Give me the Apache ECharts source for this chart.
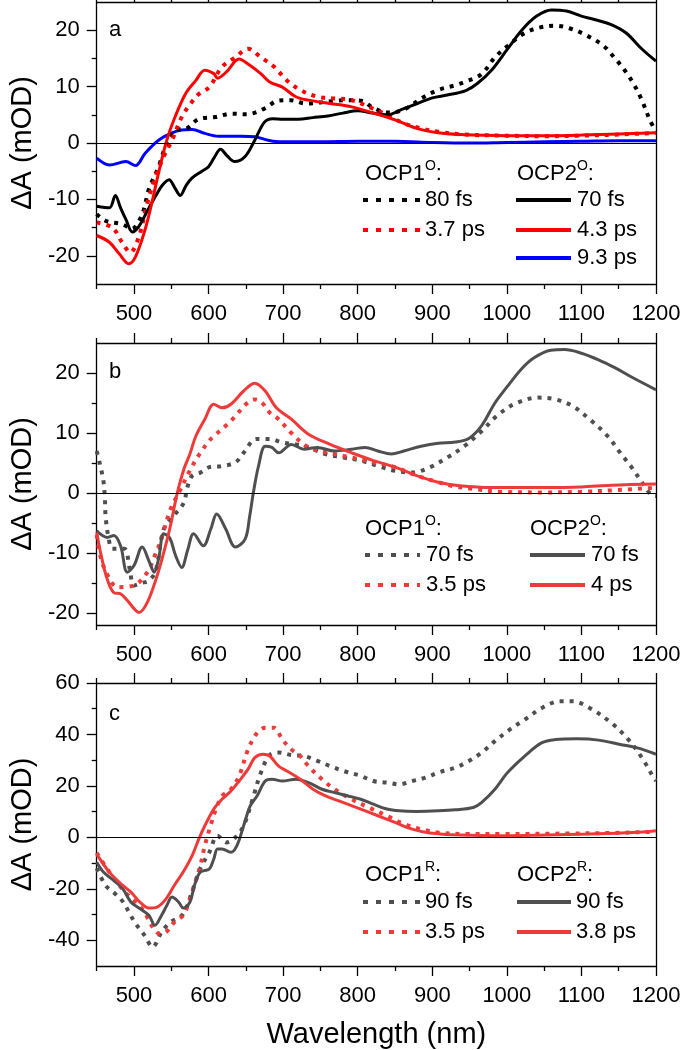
<!DOCTYPE html>
<html><head><meta charset="utf-8">
<script src="https://cdn.jsdelivr.net/npm/echarts@6/dist/echarts.min.js"></script>
<style>html,body{margin:0;padding:0;background:#fff}#c{width:684px;height:1050px}</style>
</head><body><div id="c"></div>
<script>
// ---------- tick values ----------
const X_MAJOR = [500, 600, 700, 800, 900, 1000, 1100, 1200];
const X_MINOR = [450, 550, 650, 750, 850, 950, 1050, 1150];
const Y_AB_MAJOR = [-20, -10, 0, 10, 20];
const Y_AB_MINOR = [-15, -5, 5, 15];
const Y_C_MAJOR = [-40, -20, 0, 20, 40, 60];
const Y_C_MINOR = [-30, -10, 10, 30, 50];

// ---------- panel a ----------
const A_OCP1_80fs = [[450,-12.6],[462,-13.8],[484,-14.4],[497,-15.2],[511,-12.6],[520,-8.2],[533,-4.2],[544,0],[555,2.3],[571,2.6],[586,4.2],[609,4.6],[631,5.2],[651,5.1],[675,6.1],[693,7.5],[710,7.6],[730,7],[750,7.2],[770,7.5],[790,7.6],[805,7.5],[820,6.3],[840,5.4],[855,5.6],[870,6.5],[885,7.9],[908,9.4],[930,10.2],[945,10.9],[966,12.2],[984,15.2],[1001,17.2],[1024,19.5],[1045,20.5],[1065,20.8],[1085,20.3],[1105,19.2],[1129,17.3],[1145,15],[1158,12.9],[1170,10.5],[1181,7.6],[1192,4],[1200,2]];
const A_OCP1_37ps = [[450,-14.1],[471,-15],[484,-17.6],[495,-19.4],[507,-16.4],[518,-10.6],[529,-5.9],[540,-2.4],[551,0.5],[564,4.6],[576,7],[587,8.7],[601,9.9],[618,13.5],[636,15.2],[653,16.7],[670,15.2],[688,13.5],[705,11.1],[723,9.4],[746,8.2],[769,7.9],[792,7.6],[815,6.4],[839,5],[862,3.5],[885,2.6],[908,2],[943,1.5],[1000,1.3],[1050,1.2],[1100,1.3],[1150,1.5],[1200,1.8]];
const A_OCP2_70fs = [[450,-11.2],[467,-11.5],[475,-9.3],[482,-11.5],[489,-13.5],[498,-15.8],[507,-14.7],[518,-12],[529,-9.4],[538,-7.5],[547,-6.5],[555,-8],[562,-9.3],[570,-7.5],[578,-6.2],[591,-5],[600,-4.2],[608,-2.5],[616,-1.1],[625,-2.3],[635,-3.3],[649,-2.4],[662,0.5],[675,3.7],[686,4.3],[700,4.2],[720,4.2],[740,4.5],[760,4.8],[780,5.3],[800,5.7],[820,5.3],[840,5],[860,6],[880,7],[900,8],[920,8.5],[945,9.3],[960,10.5],[980,13],[1000,16.5],[1020,20],[1040,22.5],[1060,23.6],[1080,23.4],[1100,22.5],[1120,21.8],[1140,21],[1160,19.5],[1180,16.8],[1200,14.5]];
const A_OCP2_43ps = [[450,-16.4],[467,-17.6],[480,-19.6],[493,-21.4],[502,-20.2],[515,-15.3],[524,-10.6],[533,-5.3],[544,0.5],[555,4.6],[569,8.7],[583,11.1],[595,12.9],[607,12.3],[612,11.5],[624,12.6],[641,14.9],[653,14],[670,12.3],[682,10.8],[699,9.9],[717,8.2],[734,7.6],[763,7],[792,6.4],[821,5.3],[850,4.1],[879,2.6],[908,1.8],[937,1.5],[1000,1.3],[1050,1.3],[1100,1.4],[1150,1.6],[1200,1.8]];
const A_OCP2_93ps = [[450,-2.7],[467,-3.9],[489,-3.3],[502,-4],[515,-1.8],[533,0.5],[551,1.8],[564,2.3],[578,2.4],[595,1.7],[613,1.2],[644,1.2],[662,1.1],[680,0.5],[697,0.2],[750,0.2],[800,0.3],[850,0.3],[900,0.1],[950,0],[1000,0.1],[1050,0.2],[1100,0.3],[1150,0.4],[1200,0.4]];

// ---------- panel b ----------
const B_OCP1_70fs = [[450,7],[454,5],[459,2],[461,-1],[462,-4],[466,-7.5],[471,-9.3],[487,-9.3],[494,-12.5],[500,-15.4],[510,-15],[520,-14.6],[529,-13],[540,-6],[553,-3.8],[567,-1.6],[571,0.7],[578,2.9],[589,3.4],[601,4.3],[618,4.5],[636,5.1],[647,6.7],[664,9],[682,9],[699,8.4],[717,8.1],[734,7.6],[757,6.5],[781,5.9],[804,5.4],[827,4.5],[850,3.7],[873,3.4],[897,4.3],[920,5.9],[943,7.8],[966,10.3],[989,13.1],[1013,15],[1042,15.9],[1065,15.6],[1088,14.5],[1111,12.3],[1135,9.5],[1152,6.7],[1169,4],[1181,1.8],[1195,-0.4],[1200,-0.5]];
const B_OCP1_35ps = [[450,-7],[456,-11],[466,-14],[478,-15.7],[500,-15.4],[518,-13.2],[527,-10.7],[536,-7.9],[549,-2.7],[560,0],[576,4],[589,6.7],[601,8.7],[607,9.5],[625,11.4],[636,12.8],[650,14.8],[662,15.6],[672,15],[682,13.4],[694,12.3],[711,10],[734,7.6],[769,6.5],[792,5.9],[821,5.1],[850,4.3],[879,2.9],[908,1.8],[930,1.1],[955,0.7],[990,0.2],[1050,0.1],[1100,0.2],[1150,0.5],[1200,0.9]];
const B_OCP2_70fs = [[450,-6.3],[464,-7.4],[473,-7.1],[482,-8.8],[491,-13.2],[500,-12.1],[511,-9],[520,-11.3],[527,-13.2],[533,-11],[540,-6.8],[548,-7.5],[556,-10.5],[564,-12.4],[572,-9.5],[580,-6.8],[593,-8.8],[603,-6],[611,-3.5],[623,-6],[636,-9],[649,-7.7],[655,-4],[660,0],[667,4.5],[676,7.8],[685,7.6],[694,6.7],[711,8.1],[728,7.3],[746,7.6],[769,7],[792,7.3],[810,7.6],[827,7],[845,6.5],[862,7],[885,7.8],[908,8.3],[931,8.5],[949,9.1],[966,11.2],[984,15],[1001,17.8],[1019,20.6],[1036,22.5],[1059,23.8],[1077,23.9],[1100,23.3],[1123,22.2],[1146,20.8],[1169,19.2],[1200,17.2]];
const B_OCP2_4ps = [[450,-6.6],[456,-10.4],[464,-14.3],[473,-16.6],[482,-16.8],[491,-17.9],[507,-19.9],[518,-18.2],[531,-13.8],[540,-9.9],[549,-5.4],[558,0],[567,4],[575,6.5],[583,9.5],[595,12.3],[607,14.8],[618,14.2],[630,14.8],[647,17],[662,18.3],[676,17],[691,14.2],[711,12.3],[734,9.8],[763,8.1],[792,6.7],[821,5.4],[850,4.3],[879,2.9],[908,1.8],[937,1.2],[980,0.9],[1050,0.9],[1100,1],[1140,1.3],[1200,1.5]];

// ---------- panel c ----------
const C_OCP1_90fs = [[450,-12],[462,-18.7],[475,-22],[485,-25],[495,-30],[502,-33.5],[514,-38],[525,-42.6],[537,-36.8],[549,-33],[566,-29.7],[578,-21],[589,-12],[601,-5.8],[612,0.6],[624,-2],[636,0],[647,4.5],[659,14.8],[670,25],[682,32],[694,33],[711,32],[728,31.6],[746,29.7],[763,27.7],[781,25.8],[804,23.9],[821,21.9],[839,21.3],[856,20.6],[873,21.9],[891,23.2],[908,25.2],[931,27.1],[949,29.7],[966,32.9],[984,37.4],[1001,41.3],[1024,45.8],[1047,50.3],[1071,52.9],[1088,52.9],[1111,50.3],[1140,44.5],[1163,38],[1181,31],[1198,22.6],[1200,22]];
const C_OCP1_35ps = [[450,-6],[467,-13.5],[488,-21.3],[502,-25.2],[514,-29],[522,-33.5],[534,-37.4],[543,-36.8],[554,-33],[566,-30.3],[572,-26.5],[581,-18.7],[589,-11],[595,-3.2],[604,5.8],[610,11],[618,16],[630,18.7],[641,23.9],[653,34.2],[665,40.6],[676,42.6],[688,42.6],[699,38],[711,34.2],[723,31.6],[734,27.7],[752,22.6],[769,18.7],[792,14.8],[815,11.6],[839,8.4],[862,5.2],[885,3.2],[908,1.9],[943,1.3],[995,1.3],[1082,1.5],[1140,1.7],[1200,2.2]];
const C_OCP2_90fs = [[450,-9.7],[459,-13.5],[473,-16.8],[485,-20],[496,-25.2],[508,-27.7],[520,-30.3],[528,-34.2],[537,-30.3],[544,-26.5],[551,-23.2],[560,-25.2],[566,-27.5],[575,-25.2],[581,-18.7],[589,-13.5],[601,-12.3],[607,-8.4],[612,-4.5],[618,-4.5],[630,-5.8],[638,-3.2],[647,4.5],[656,12.3],[665,16.1],[676,21.9],[685,22.6],[699,21.9],[717,22.6],[734,21.3],[752,18.7],[769,17.4],[787,16.1],[804,14.8],[821,12.9],[839,11],[856,10.3],[879,10.1],[908,10.3],[931,10.7],[955,11.6],[966,13.5],[984,18.7],[1001,25.2],[1024,31.6],[1047,36.8],[1065,38],[1094,38.3],[1123,37.8],[1152,36.1],[1175,34.8],[1200,32.3]];
const C_OCP2_38ps = [[450,-6.5],[467,-13.5],[485,-18.7],[496,-21.3],[508,-25.2],[520,-27.5],[531,-27.1],[543,-23.9],[554,-18.7],[566,-13.5],[578,-7.1],[587,-0.6],[595,4.5],[607,11],[618,14.8],[630,18],[641,21.9],[653,26.5],[662,31],[673,32.3],[682,31.6],[694,27.7],[705,25.8],[723,22.6],[740,18.7],[757,16.1],[781,13.5],[804,11],[827,8.4],[850,5.8],[873,3.2],[897,1.7],[937,0.9],[995,0.6],[1053,0.9],[1111,1.3],[1169,1.9],[1200,2.6]];

// ---------- legend / labels ----------
const PANEL_LETTERS = ['a', 'b', 'c'];
const LEG_HEAD = [['OCP1', 'O'], ['OCP2', 'O'], ['OCP1', 'O'], ['OCP2', 'O'], ['OCP1', 'R'], ['OCP2', 'R']];
const LEG_A1 = ['80 fs', '3.7 ps'];
const LEG_A2 = ['70 fs', '4.3 ps', '9.3 ps'];
const LEG_B1 = ['70 fs', '3.5 ps'];
const LEG_B2 = ['70 fs', '4 ps'];
const LEG_C1 = ['90 fs', '3.5 ps'];
const LEG_C2 = ['90 fs', '3.8 ps'];

const FONT = '"Liberation Sans", Arial, Helvetica, sans-serif';
const BLACK = '#000000', RED = '#ff0000', BLUE = '#0000ff';
const GRAY = '#4f4f4f', RED2 = '#ef3a3a';
const DOT = [4, 6];

const grids = [
  {left: 92, top: 2, width: 564, height: 282},
  {left: 92, top: 343, width: 564, height: 282},
  {left: 92, top: 683, width: 564, height: 283}
];
const yRanges = [[-25, 25], [-22, 25], [-50, 60]];
const yMajor = [Y_AB_MAJOR, Y_AB_MAJOR, Y_C_MAJOR];
const yMinor = [Y_AB_MINOR, Y_AB_MINOR, Y_C_MINOR];

const axLine = {color: '#000', width: 1.3};
const fmt = v => String(v);
const xAxis = [], yAxis = [];
grids.forEach((g, i) => {
  const base = {gridIndex: i, type: 'value', min: 450, max: 1200, splitLine: {show: false}};
  xAxis.push(Object.assign({}, base, {
    position: 'bottom',
    axisLine: {onZero: false, lineStyle: axLine},
    axisTick: {customValues: X_MAJOR, length: 10, lineStyle: axLine},
    axisLabel: {customValues: X_MAJOR, formatter: fmt, fontSize: 22, color: '#000', margin: 19, fontFamily: FONT},
    name: i === 2 ? 'Wavelength (nm)' : '',
    nameLocation: 'middle', nameGap: 54,
    nameTextStyle: {fontSize: 29, color: '#000', fontFamily: FONT}
  }));
  xAxis.push(Object.assign({}, base, {
    position: 'bottom',
    axisLine: {show: false, onZero: false},
    axisTick: {customValues: X_MINOR, length: 5, lineStyle: axLine},
    axisLabel: {show: false}
  }));
  xAxis.push(Object.assign({}, base, {
    position: 'top',
    axisLine: {onZero: false, lineStyle: axLine},
    axisTick: {customValues: X_MAJOR, length: 10, lineStyle: axLine},
    axisLabel: {show: false}
  }));
  xAxis.push(Object.assign({}, base, {
    position: 'top',
    axisLine: {show: false, onZero: false},
    axisTick: {customValues: X_MINOR, length: 5, lineStyle: axLine},
    axisLabel: {show: false}
  }));
  const yb = {gridIndex: i, type: 'value', min: yRanges[i][0], max: yRanges[i][1], splitLine: {show: false}};
  yAxis.push(Object.assign({}, yb, {
    position: 'left',
    axisLine: {onZero: false, lineStyle: axLine},
    axisTick: {customValues: yMajor[i], length: 10, lineStyle: axLine},
    axisLabel: {customValues: yMajor[i], formatter: fmt, fontSize: 22, color: '#000', margin: 17, fontFamily: FONT},
    name: 'ΔA (mOD)', nameLocation: 'middle', nameGap: 52,
    nameTextStyle: {fontSize: 29, color: '#000', fontFamily: FONT}
  }));
  yAxis.push(Object.assign({}, yb, {
    position: 'left',
    axisLine: {show: false, onZero: false},
    axisTick: {customValues: yMinor[i], length: 5, lineStyle: axLine},
    axisLabel: {show: false}
  }));
  yAxis.push(Object.assign({}, yb, {
    position: 'right',
    axisLine: {onZero: false, lineStyle: axLine},
    axisTick: {show: false},
    axisLabel: {show: false}
  }));
});

function line(name, data, color, dotted, g, zero) {
  const s = {
    name, type: 'line', data, xAxisIndex: g * 4, yAxisIndex: g * 3,
    showSymbol: false, smooth: 0.35, clip: true,
    lineStyle: {color, width: dotted ? 4 : 3, type: dotted ? DOT : 'solid', cap: 'butt'}
  };
  if (zero) {
    s.markLine = {silent: true, symbol: 'none', label: {show: false}, animation: false,
      lineStyle: {color: '#000', width: 1.2, type: 'solid'}, data: [{yAxis: 0}]};
  }
  return s;
}

const series = [
  line('OCP2 9.3 ps', A_OCP2_93ps, BLUE, false, 0, true),
  line('OCP1 80 fs', A_OCP1_80fs, BLACK, true, 0),
  line('OCP1 3.7 ps', A_OCP1_37ps, RED, true, 0),
  line('OCP2 70 fs', A_OCP2_70fs, BLACK, false, 0),
  line('OCP2 4.3 ps', A_OCP2_43ps, RED, false, 0),
  line('OCP1 70 fs', B_OCP1_70fs, GRAY, true, 1, true),
  line('OCP1 3.5 ps', B_OCP1_35ps, RED2, true, 1),
  line('OCP2 70 fs', B_OCP2_70fs, GRAY, false, 1),
  line('OCP2 4 ps', B_OCP2_4ps, RED2, false, 1),
  line('OCP1 90 fs', C_OCP1_90fs, GRAY, true, 2, true),
  line('OCP1 3.5 ps', C_OCP1_35ps, RED2, true, 2),
  line('OCP2 90 fs', C_OCP2_90fs, GRAY, false, 2),
  line('OCP2 3.8 ps', C_OCP2_38ps, RED2, false, 2)
];

// ---------- graphic legend ----------
const graphic = [];
function txt(x, y, text, size) {
  graphic.push({type: 'text', x, y, silent: true,
    style: {text, fill: '#000', font: size + 'px ' + FONT, verticalAlign: 'middle', align: 'left'}});
}
function head(x, y, h) {
  graphic.push({type: 'text', x, y, silent: true,
    style: {text: '{m|' + h[0] + '}{s|' + h[1] + '}{m|:}', verticalAlign: 'middle', align: 'left',
      rich: {m: {fontSize: 22, fontFamily: FONT, fill: '#000', color: '#000', lineHeight: 26, verticalAlign: 'bottom'},
             s: {fontSize: 14, fontFamily: FONT, fill: '#000', color: '#000', lineHeight: 26, verticalAlign: 'top'}}}});
}
function seg(x1, x2, y, color, dotted) {
  graphic.push({type: 'line', silent: true, shape: {x1, y1: y, x2, y2: y},
    style: {stroke: color, lineWidth: 4, lineDash: dotted ? [5, 8] : null, lineCap: 'butt'}});
}
PANEL_LETTERS.forEach((l, i) => txt(109, [30, 372, 714][i], l, 22));
// panel a
head(365, 172, LEG_HEAD[0]); head(517, 172, LEG_HEAD[1]);
seg(363, 420, 200, BLACK, true); txt(425, 200, LEG_A1[0], 22);
seg(363, 420, 230, RED, true); txt(425, 230, LEG_A1[1], 22);
seg(516, 571, 200, BLACK, false); txt(577, 200, LEG_A2[0], 22);
seg(516, 571, 230, RED, false); txt(577, 230, LEG_A2[1], 22);
seg(516, 571, 258, BLUE, false); txt(577, 258, LEG_A2[2], 22);
// panel b
head(365, 527, LEG_HEAD[2]); head(530, 527, LEG_HEAD[3]);
seg(365, 420, 555, GRAY, true); txt(426, 555, LEG_B1[0], 22);
seg(365, 420, 585, RED2, true); txt(426, 585, LEG_B1[1], 22);
seg(530, 585, 555, GRAY, false); txt(591, 555, LEG_B2[0], 22);
seg(530, 585, 585, RED2, false); txt(591, 585, LEG_B2[1], 22);
// panel c
head(365, 873, LEG_HEAD[4]); head(517, 873, LEG_HEAD[5]);
seg(363, 420, 902, GRAY, true); txt(425, 902, LEG_C1[0], 22);
seg(363, 420, 932, RED2, true); txt(425, 932, LEG_C1[1], 22);
seg(517, 571, 902, GRAY, false); txt(576, 902, LEG_C2[0], 22);
seg(517, 571, 932, RED2, false); txt(576, 932, LEG_C2[1], 22);

const chart = echarts.init(document.getElementById('c'), null, {renderer: 'canvas'});
chart.setOption({
  animation: false,
  backgroundColor: '#fff',
  textStyle: {fontFamily: FONT},
  grid: grids,
  xAxis, yAxis, series, graphic
});
</script></body></html>
